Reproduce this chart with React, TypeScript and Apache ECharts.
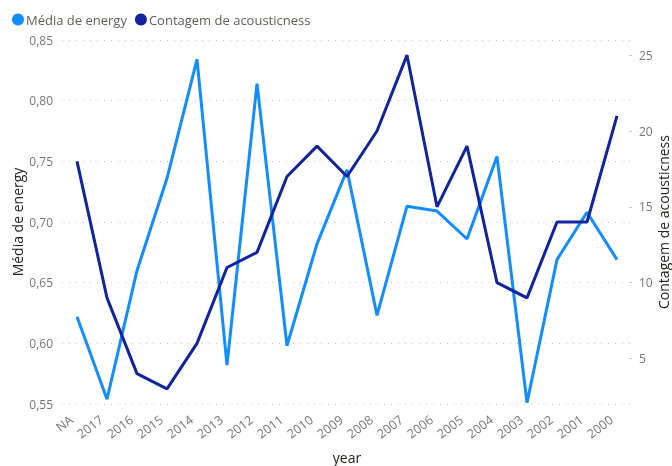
import React, { useEffect, useRef } from "react";
import * as echarts from "echarts";

const categories = ["NA", "2017", "2016", "2015", "2014", "2013", "2012", "2011", "2010", "2009", "2008", "2007", "2006", "2005", "2004", "2003", "2002", "2001", "2000"];
const energyMean = [0.622, 0.554, 0.66, 0.736, 0.834, 0.582, 0.814, 0.598, 0.682, 0.743, 0.623, 0.713, 0.709, 0.686, 0.754, 0.551, 0.669, 0.708, 0.669];
const acousticnessCount = [18, 9, 4, 3, 6, 11, 12, 17, 19, 17, 20, 25, 15, 19, 10, 9, 14, 14, 21];
const rightTicks = [5, 10, 15, 20, 25];

const FONT = "'Segoe UI', 'Open Sans', sans-serif";

export default function App() {
  const ref = useRef<HTMLDivElement>(null);
  useEffect(() => {
    if (!ref.current) return;
    const chart = echarts.init(ref.current, undefined, { renderer: "svg" });
    chart.setOption({
      animation: false,
      textStyle: { fontFamily: FONT },
      legend: {
        left: 7,
        top: 8,
        icon: "circle",
        itemWidth: 12,
        itemHeight: 12,
        itemGap: 8,
        textStyle: { color: "#605E5C", fontSize: 13, fontFamily: FONT, padding: [0, 0, 0, -3] },
        data: ["Média de energy", "Contagem de acousticness"],
      },
      grid: { left: 62, right: 40, top: 40, bottom: 62, outerBoundsMode: "none", containLabel: false },
      xAxis: {
        type: "category",
        data: categories,
        boundaryGap: true,
        axisLine: { show: false },
        axisTick: { show: false },
        axisLabel: { rotate: 37, color: "#777", fontSize: 12.5, margin: 10, padding: [0, 7, 0, 0], interval: 0, fontFamily: FONT },
        name: "year",
        nameLocation: "middle",
        nameGap: 46,
        nameMoveOverlap: false,
        nameTextStyle: { color: "#252423", fontSize: 14, fontFamily: FONT },
      },
      yAxis: [
        {
          type: "value",
          position: "left",
          min: 0.55,
          max: 0.85,
          interval: 0.05,
          name: "Média de energy",
          nameLocation: "middle",
          nameGap: 38,
          nameMoveOverlap: false,
          nameTextStyle: { color: "#252423", fontSize: 14, fontFamily: FONT },
          axisLine: { show: false },
          axisTick: { show: false },
          axisLabel: {
            color: "#777",
            fontSize: 12,
            margin: 9,
            fontFamily: FONT,
            formatter: (v: number) => v.toFixed(2).replace(".", ","),
          },
          splitLine: { show: true, lineStyle: { color: "#C8C6C4", type: [1, 6], width: 1 } },
        },
        {
          type: "value",
          position: "right",
          min: 2,
          max: 26,
          name: "Contagem de acousticness",
          nameLocation: "middle",
          nameGap: 24,
          nameMoveOverlap: false,
          nameTextStyle: { color: "#252423", fontSize: 14, fontFamily: FONT },
          axisLine: { show: false },
          axisTick: { show: true, inside: true, length: 3, customValues: rightTicks, lineStyle: { color: "#C8C6C4" } },
          axisLabel: { color: "#777", fontSize: 12, margin: 7, fontFamily: FONT, customValues: rightTicks },
          splitLine: { show: false },
        },
      ],
      series: [
        {
          name: "Média de energy",
          type: "line",
          yAxisIndex: 0,
          data: energyMean,
          symbol: "none",
          color: "#118DFF",
          lineStyle: { width: 3, color: "#118DFF" },
        },
        {
          name: "Contagem de acousticness",
          type: "line",
          yAxisIndex: 1,
          data: acousticnessCount,
          symbol: "none",
          color: "#12239E",
          lineStyle: { width: 3, color: "#12239E" },
        },
      ],
    });
    return () => chart.dispose();
  }, []);
  return <div ref={ref} style={{ position: "fixed", left: 0, top: 0, width: 672, height: 466 }} />;
}
